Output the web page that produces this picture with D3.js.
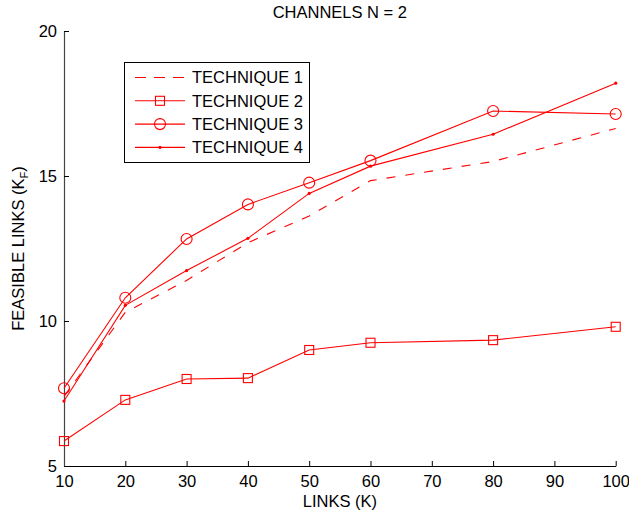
<!DOCTYPE html>
<html>
<head>
<meta charset="utf-8">
<script src="https://cdn.jsdelivr.net/npm/d3@7"></script>
<style>
  body { margin: 0; background: #fff; }
  svg text { font-family: "Liberation Sans", Arial, Helvetica, sans-serif; font-size: 16.5px; fill: #000; }
</style>
</head>
<body>
<div id="chart"></div>
<script>
'use strict';

var links = [10, 20, 30, 40, 50, 60, 80, 100];
var technique1 = [7.4, 10.3, 11.4, 12.7, 13.62, 14.84, 15.5, 16.64];
var technique2 = [5.86, 7.28, 8.0, 8.03, 9.0, 9.25, 9.34, 9.8];
var technique3 = [7.68, 10.8, 12.83, 14.02, 14.77, 15.53, 17.24, 17.14];
var technique4 = [7.24, 10.54, 11.74, 12.85, 14.4, 15.34, 16.44, 18.2];
var seriesNames = ['TECHNIQUE 1', 'TECHNIQUE 2', 'TECHNIQUE 3', 'TECHNIQUE 4'];
var xTicks = [10, 20, 30, 40, 50, 60, 70, 80, 90, 100];
var yTicks = [5, 10, 15, 20];

var width = 629,
    height = 514,
    margin = {top: 31, right: 13.3, bottom: 48, left: 64},
    red = '#ff0000';

var series = [
    {name: seriesNames[0], values: technique1, dash: '9,10', legendDash: '11,8', marker: 'none'},
    {name: seriesNames[1], values: technique2, dash: null, marker: 'square'},
    {name: seriesNames[2], values: technique3, dash: null, marker: 'circle'},
    {name: seriesNames[3], values: technique4, dash: null, marker: 'dot'}
];

var svg = d3.select('#chart').append('svg')
    .attr('width', width)
    .attr('height', height);

var x = d3.scaleLinear()
    .domain([10, 100])
    .range([margin.left, width - margin.right]);

var y = d3.scaleLinear()
    .domain([5, 20])
    .range([height - margin.bottom, margin.top]);

// axes (ticks pointing inward, like matlab)
var xAxis = svg.append('g')
    .attr('transform', 'translate(0,' + y(5) + ')')
    .call(d3.axisBottom(x).tickValues(xTicks).tickSizeInner(-5).tickSizeOuter(0).tickPadding(9));

var yAxis = svg.append('g')
    .attr('transform', 'translate(' + x(10) + ',0)')
    .call(d3.axisLeft(y).tickValues(yTicks).tickSizeInner(-5).tickSizeOuter(0).tickPadding(7));

[xAxis, yAxis].forEach(function(ax){
    ax.select('.domain').attr('stroke', '#000').attr('stroke-width', 1.2);
    ax.selectAll('.tick line').attr('stroke', '#000');
    ax.selectAll('.tick text').style('font-size', '16.5px').attr('fill', '#000');
});
yAxis.select('.domain').attr('stroke', '#444');
xAxis.selectAll('.tick text').attr('dy', '0.75em');

// titles
svg.append('text')
    .attr('x', (x(10) + x(100)) / 2)
    .attr('y', 18)
    .attr('text-anchor', 'middle')
    .text('CHANNELS N = 2');

svg.append('text')
    .attr('x', (x(10) + x(100)) / 2)
    .attr('y', 507)
    .attr('text-anchor', 'middle')
    .text('LINKS (K)');

var yLabel = svg.append('text')
    .attr('transform', 'translate(24,' + ((y(5) + y(20)) / 2) + ') rotate(-90)')
    .attr('text-anchor', 'middle');
yLabel.append('tspan').text('FEASIBLE LINKS (K');
yLabel.append('tspan').attr('dy', 4).style('font-size', '11px').text('F');
yLabel.append('tspan').attr('dy', -4).text(')');

// lines
var line = d3.line()
    .x(function(d, i){ return x(links[i]); })
    .y(function(d){ return y(d); });

var drawMarkers = function(g, s, pts){
    if (s.marker === 'square') {
        g.selectAll('rect').data(pts).enter().append('rect')
            .attr('x', function(d){ return d[0] - 4.5; })
            .attr('y', function(d){ return d[1] - 4.5; })
            .attr('width', 9).attr('height', 9)
            .attr('fill', 'none').attr('stroke', red).attr('stroke-width', 1.1);
    } else if (s.marker === 'circle') {
        g.selectAll('circle').data(pts).enter().append('circle')
            .attr('cx', function(d){ return d[0]; })
            .attr('cy', function(d){ return d[1]; })
            .attr('r', 5.5)
            .attr('fill', 'none').attr('stroke', red).attr('stroke-width', 1.1);
    } else if (s.marker === 'dot') {
        g.selectAll('circle').data(pts).enter().append('circle')
            .attr('cx', function(d){ return d[0]; })
            .attr('cy', function(d){ return d[1]; })
            .attr('r', 1.6)
            .attr('fill', red);
    }
};

series.forEach(function(s){
    var g = svg.append('g');
    g.append('path')
        .attr('d', line(s.values))
        .attr('fill', 'none')
        .attr('stroke', red)
        .attr('stroke-width', 1.1)
        .attr('stroke-dasharray', s.dash);
    drawMarkers(g, s, s.values.map(function(v, i){ return [x(links[i]), y(v)]; }));
});

// legend
var legend = svg.append('g');
legend.append('rect')
    .attr('x', 124.5).attr('y', 62.5)
    .attr('width', 185).attr('height', 100)
    .attr('fill', '#fff').attr('stroke', '#000').attr('stroke-width', 1);

series.forEach(function(s, i){
    var ly = 77.5 + i * 23.3;
    var row = legend.append('g');
    row.append('line')
        .attr('x1', 135).attr('x2', 185)
        .attr('y1', ly).attr('y2', ly)
        .attr('stroke', red).attr('stroke-width', 1.1)
        .attr('stroke-dasharray', s.legendDash || null);
    drawMarkers(row, s, [[160, ly]]);
    row.append('text')
        .attr('x', 192)
        .attr('y', ly)
        .attr('dy', '0.36em')
        .text(s.name);
});
</script>
</body>
</html>
